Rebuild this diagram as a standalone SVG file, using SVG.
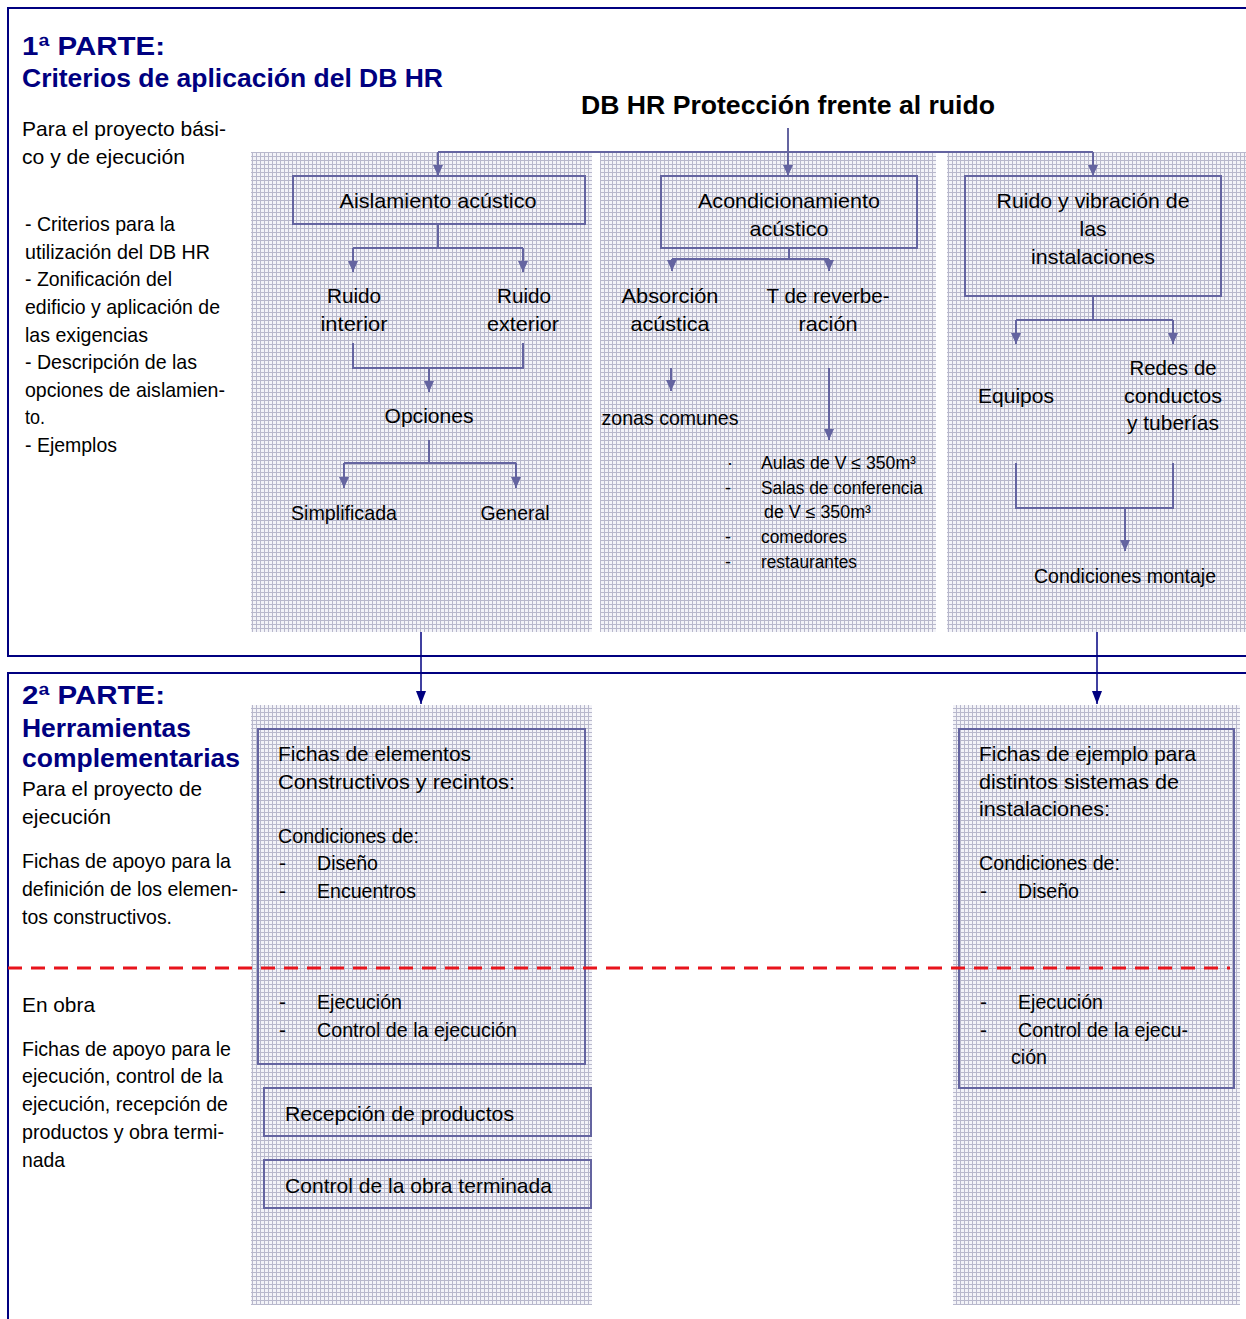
<svg xmlns="http://www.w3.org/2000/svg" width="1246" height="1319" viewBox="0 0 1246 1319">
<style>
.t{font-family:"Liberation Sans Narrow","Liberation Sans",Arial,sans-serif;font-size:21px;fill:#000}
.s{font-family:"Liberation Sans Narrow","Liberation Sans",Arial,sans-serif;font-size:18px;fill:#000}
.c{text-anchor:middle}
.h{font-family:"Liberation Sans",Arial,sans-serif;font-weight:bold;font-size:26px;fill:#000080}
.h2{font-family:"Liberation Sans",Arial,sans-serif;font-weight:bold;font-size:25px;fill:#000}
.frame{fill:none;stroke:#000080;stroke-width:2}
.panel{fill:url(#grid)}
.box{fill:none;stroke:#6464a0;stroke-width:2}
.ln{fill:none;stroke:#6464a0;stroke-width:2}
.ar{fill:none;stroke:#6464a0;stroke-width:2;marker-end:url(#a)}
.nar{fill:none;stroke:#000080;stroke-width:1.5;marker-end:url(#n)}
.red{fill:none;stroke:#e8141c;stroke-width:3;stroke-dasharray:14 9}
</style>
<defs>
<pattern id="grid" width="4" height="4" patternUnits="userSpaceOnUse">
<rect width="4" height="4" fill="#f3f3f8"/>
<path d="M0 0.5H4M0.5 0V4" stroke="#b8b8cc" stroke-width="1"/>
</pattern>
<marker id="a" viewBox="0 0 10 10" refX="10" refY="5" markerWidth="11" markerHeight="10" markerUnits="userSpaceOnUse" orient="auto" preserveAspectRatio="none">
<path d="M0 0L10 5L0 10z" fill="#6464a0"/>
</marker>
<marker id="n" viewBox="0 0 10 10" refX="10" refY="5" markerWidth="13" markerHeight="10" markerUnits="userSpaceOnUse" orient="auto" preserveAspectRatio="none">
<path d="M0 0L10 5L0 10z" fill="#000080"/>
</marker>
</defs>
<rect width="1246" height="1319" fill="#fff"/>

<g id="frames">
<path class="frame" d="M1246 8H8V656H1246"/>
<path class="frame" d="M1246 673H8V1319"/>
</g>

<g id="panels">
<rect class="panel" x="251" y="152" width="341" height="480"/>
<rect class="panel" x="600" y="152" width="336" height="480"/>
<rect class="panel" x="947" y="152" width="299" height="480"/>
<rect class="panel" x="251" y="705" width="341" height="600"/>
<rect class="panel" x="953" y="705" width="287" height="600"/>
</g>

<g id="part1-text">
<text class="h" x="22" y="55" textLength="143" lengthAdjust="spacingAndGlyphs">1ª PARTE:</text>
<text class="h" x="22" y="87" font-size="25" textLength="421" lengthAdjust="spacingAndGlyphs">Criterios de aplicación del DB HR</text>
<text class="t" x="22" y="136" textLength="204" lengthAdjust="spacingAndGlyphs">Para el proyecto bási-</text>
<text class="t" x="22" y="164" textLength="163" lengthAdjust="spacingAndGlyphs">co y de ejecución</text>
<text class="t" x="25" y="231" textLength="150" lengthAdjust="spacingAndGlyphs">- Criterios para la</text>
<text class="t" x="25" y="259" textLength="185" lengthAdjust="spacingAndGlyphs">utilización del DB HR</text>
<text class="t" x="25" y="286" textLength="147" lengthAdjust="spacingAndGlyphs">- Zonificación del</text>
<text class="t" x="25" y="314" textLength="195" lengthAdjust="spacingAndGlyphs">edificio y aplicación de</text>
<text class="t" x="25" y="342" textLength="123" lengthAdjust="spacingAndGlyphs">las exigencias</text>
<text class="t" x="25" y="369" textLength="172" lengthAdjust="spacingAndGlyphs">- Descripción de las</text>
<text class="t" x="25" y="397" textLength="200" lengthAdjust="spacingAndGlyphs">opciones de aislamien-</text>
<text class="t" x="25" y="424" textLength="20" lengthAdjust="spacingAndGlyphs">to.</text>
<text class="t" x="25" y="452" textLength="92" lengthAdjust="spacingAndGlyphs">- Ejemplos</text>
</g>

<g id="title">
<text class="h2 c" x="788" y="114" textLength="414" lengthAdjust="spacingAndGlyphs">DB HR Protección frente al ruido</text>
</g>

<g id="connectors">
<path class="ln" d="M788 128V152M438 152H1093"/>
<path class="ar" d="M438 152V176"/>
<path class="ar" d="M788 152V176"/>
<path class="ar" d="M1093 152V176"/>
<path class="ln" d="M438 224V248M353 248H523"/>
<path class="ar" d="M353 248V272"/>
<path class="ar" d="M523 248V272"/>
<path class="ln" d="M353 343V368H523V343"/>
<path class="ar" d="M429 368V392"/>
<path class="ln" d="M429 440V463M344 463H516"/>
<path class="ar" d="M344 463V488"/>
<path class="ar" d="M516 463V488"/>
<path class="ln" d="M789 248V259M672 259H829"/>
<path class="ar" d="M672 259V271"/>
<path class="ar" d="M829 259V271"/>
<path class="ar" d="M671 368V391"/>
<path class="ar" d="M829 368V440"/>
<path class="ln" d="M1093 296V320M1016 320H1173"/>
<path class="ar" d="M1016 320V344"/>
<path class="ar" d="M1173 320V344"/>
<path class="ln" d="M1016 463V508H1173V463"/>
<path class="ar" d="M1125 508V551"/>
<path class="nar" d="M421 632V704"/>
<path class="nar" d="M1097 632V704"/>
</g>

<g id="n-aislamiento">
<rect class="box" x="293" y="176" width="292" height="48"/>
<text class="t c" x="438" y="208" textLength="197" lengthAdjust="spacingAndGlyphs">Aislamiento acústico</text>
</g>
<g id="n-acondicionamiento">
<rect class="box" x="661" y="176" width="256" height="72"/>
<text class="t c" x="789" y="208" textLength="182" lengthAdjust="spacingAndGlyphs">Acondicionamiento</text>
<text class="t c" x="789" y="236" textLength="79" lengthAdjust="spacingAndGlyphs">acústico</text>
</g>
<g id="n-ruido-vibracion">
<rect class="box" x="965" y="176" width="256" height="120"/>
<text class="t c" x="1093" y="208" textLength="193" lengthAdjust="spacingAndGlyphs">Ruido y vibración de</text>
<text class="t c" x="1093" y="236" textLength="27" lengthAdjust="spacingAndGlyphs">las</text>
<text class="t c" x="1093" y="264" textLength="124" lengthAdjust="spacingAndGlyphs">instalaciones</text>
</g>
<g id="n-ruido-interior">
<text class="t c" x="354" y="303" textLength="54" lengthAdjust="spacingAndGlyphs">Ruido</text>
<text class="t c" x="354" y="331" textLength="67" lengthAdjust="spacingAndGlyphs">interior</text>
</g>
<g id="n-ruido-exterior">
<text class="t c" x="524" y="303" textLength="54" lengthAdjust="spacingAndGlyphs">Ruido</text>
<text class="t c" x="523" y="331" textLength="72" lengthAdjust="spacingAndGlyphs">exterior</text>
</g>
<g id="n-opciones">
<text class="t c" x="429" y="423" textLength="89" lengthAdjust="spacingAndGlyphs">Opciones</text>
</g>
<g id="n-simplificada">
<text class="t c" x="344" y="520" textLength="106" lengthAdjust="spacingAndGlyphs">Simplificada</text>
</g>
<g id="n-general">
<text class="t c" x="515" y="520" textLength="69" lengthAdjust="spacingAndGlyphs">General</text>
</g>
<g id="n-absorcion">
<text class="t c" x="670" y="303" textLength="97" lengthAdjust="spacingAndGlyphs">Absorción</text>
<text class="t c" x="670" y="331" textLength="79" lengthAdjust="spacingAndGlyphs">acústica</text>
</g>
<g id="n-reverberacion">
<text class="t c" x="828" y="303" textLength="123" lengthAdjust="spacingAndGlyphs">T de reverbe-</text>
<text class="t c" x="828" y="331" textLength="59" lengthAdjust="spacingAndGlyphs">ración</text>
</g>
<g id="n-zonas">
<text class="t c" x="670" y="425" textLength="137" lengthAdjust="spacingAndGlyphs">zonas comunes</text>
</g>
<g id="n-recintos">
<text class="s" x="727" y="469">·</text>
<text class="s" x="761" y="469" textLength="155" lengthAdjust="spacingAndGlyphs">Aulas de V ≤ 350m³</text>
<text class="s" x="725" y="494">-</text>
<text class="s" x="761" y="494" textLength="162" lengthAdjust="spacingAndGlyphs">Salas de conferencia</text>
<text class="s" x="764" y="518" textLength="107" lengthAdjust="spacingAndGlyphs">de V ≤ 350m³</text>
<text class="s" x="725" y="543">-</text>
<text class="s" x="761" y="543" textLength="86" lengthAdjust="spacingAndGlyphs">comedores</text>
<text class="s" x="725" y="568">-</text>
<text class="s" x="761" y="568" textLength="96" lengthAdjust="spacingAndGlyphs">restaurantes</text>
</g>
<g id="n-equipos">
<text class="t c" x="1016" y="403" textLength="76" lengthAdjust="spacingAndGlyphs">Equipos</text>
</g>
<g id="n-redes">
<text class="t c" x="1173" y="375" textLength="87" lengthAdjust="spacingAndGlyphs">Redes de</text>
<text class="t c" x="1173" y="403" textLength="98" lengthAdjust="spacingAndGlyphs">conductos</text>
<text class="t c" x="1173" y="430" textLength="92" lengthAdjust="spacingAndGlyphs">y tuberías</text>
</g>
<g id="n-montaje">
<text class="t c" x="1125" y="583" textLength="182" lengthAdjust="spacingAndGlyphs">Condiciones montaje</text>
</g>

<g id="part2-text">
<text class="h" x="22" y="704" textLength="143" lengthAdjust="spacingAndGlyphs">2ª PARTE:</text>
<text class="h" x="22" y="737" textLength="169" lengthAdjust="spacingAndGlyphs">Herramientas</text>
<text class="h" x="22" y="767" textLength="218" lengthAdjust="spacingAndGlyphs">complementarias</text>
<text class="t" x="22" y="796" textLength="180" lengthAdjust="spacingAndGlyphs">Para el proyecto de</text>
<text class="t" x="22" y="824" textLength="89" lengthAdjust="spacingAndGlyphs">ejecución</text>
<text class="t" x="22" y="868" textLength="209" lengthAdjust="spacingAndGlyphs">Fichas de apoyo para la</text>
<text class="t" x="22" y="896" textLength="216" lengthAdjust="spacingAndGlyphs">definición de los elemen-</text>
<text class="t" x="22" y="924" textLength="150" lengthAdjust="spacingAndGlyphs">tos constructivos.</text>
<text class="t" x="22" y="1012" textLength="73" lengthAdjust="spacingAndGlyphs">En obra</text>
<text class="t" x="22" y="1056" textLength="209" lengthAdjust="spacingAndGlyphs">Fichas de apoyo para le</text>
<text class="t" x="22" y="1083" textLength="201" lengthAdjust="spacingAndGlyphs">ejecución, control de la</text>
<text class="t" x="22" y="1111" textLength="206" lengthAdjust="spacingAndGlyphs">ejecución, recepción de</text>
<text class="t" x="22" y="1139" textLength="202" lengthAdjust="spacingAndGlyphs">productos y obra termi-</text>
<text class="t" x="22" y="1167" textLength="43" lengthAdjust="spacingAndGlyphs">nada</text>
</g>

<g id="n-fichas-elementos">
<rect class="box" x="258" y="729" width="327" height="335"/>
<text class="t" x="278" y="761" textLength="193" lengthAdjust="spacingAndGlyphs">Fichas de elementos</text>
<text class="t" x="278" y="789" textLength="237" lengthAdjust="spacingAndGlyphs">Constructivos y recintos:</text>
<text class="t" x="278" y="843" textLength="141" lengthAdjust="spacingAndGlyphs">Condiciones de:</text>
<text class="t" x="279" y="870">-</text>
<text class="t" x="317" y="870" textLength="61" lengthAdjust="spacingAndGlyphs">Diseño</text>
<text class="t" x="279" y="898">-</text>
<text class="t" x="317" y="898" textLength="99" lengthAdjust="spacingAndGlyphs">Encuentros</text>
<text class="t" x="279" y="1009">-</text>
<text class="t" x="317" y="1009" textLength="85" lengthAdjust="spacingAndGlyphs">Ejecución</text>
<text class="t" x="279" y="1037">-</text>
<text class="t" x="317" y="1037" textLength="200" lengthAdjust="spacingAndGlyphs">Control de la ejecución</text>
</g>
<g id="n-recepcion">
<rect class="box" x="264" y="1088" width="327" height="48"/>
<text class="t" x="285" y="1121" textLength="229" lengthAdjust="spacingAndGlyphs">Recepción de productos</text>
</g>
<g id="n-obra-terminada">
<rect class="box" x="264" y="1160" width="327" height="48"/>
<text class="t" x="285" y="1193" textLength="267" lengthAdjust="spacingAndGlyphs">Control de la obra terminada</text>
</g>
<g id="n-fichas-instalaciones">
<rect class="box" x="959" y="729" width="275" height="359"/>
<text class="t" x="979" y="761" textLength="217" lengthAdjust="spacingAndGlyphs">Fichas de ejemplo para</text>
<text class="t" x="979" y="789" textLength="200" lengthAdjust="spacingAndGlyphs">distintos sistemas de</text>
<text class="t" x="979" y="816" textLength="131" lengthAdjust="spacingAndGlyphs">instalaciones:</text>
<text class="t" x="979" y="870" textLength="141" lengthAdjust="spacingAndGlyphs">Condiciones de:</text>
<text class="t" x="980" y="898">-</text>
<text class="t" x="1018" y="898" textLength="61" lengthAdjust="spacingAndGlyphs">Diseño</text>
<text class="t" x="980" y="1009">-</text>
<text class="t" x="1018" y="1009" textLength="85" lengthAdjust="spacingAndGlyphs">Ejecución</text>
<text class="t" x="980" y="1037">-</text>
<text class="t" x="1018" y="1037" textLength="170" lengthAdjust="spacingAndGlyphs">Control de la ejecu-</text>
<text class="t" x="1011" y="1064" textLength="36" lengthAdjust="spacingAndGlyphs">ción</text>
</g>

<g id="divider">
<path class="red" d="M8 968H1230"/>
</g>
</svg>
